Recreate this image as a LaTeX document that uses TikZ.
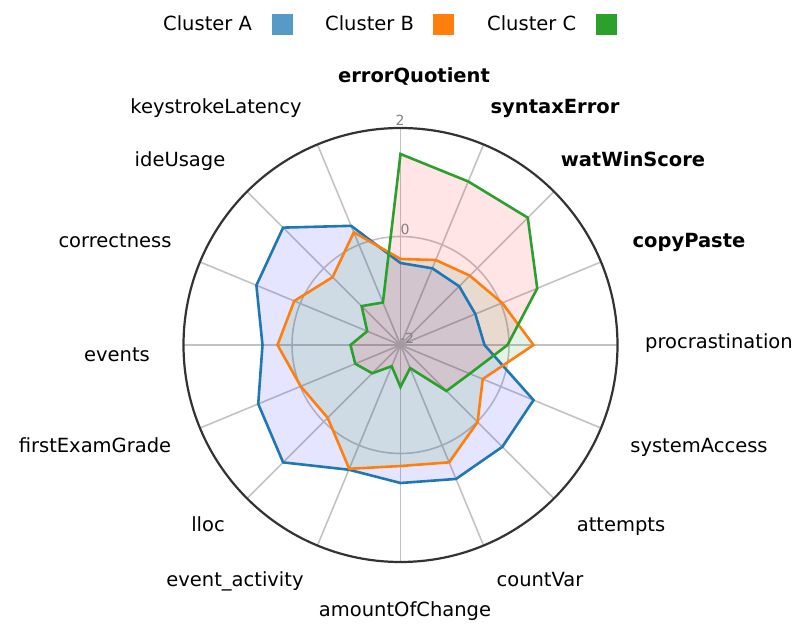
\documentclass[tikz,border=0pt]{standalone}
\usepackage{fontspec}
\setmainfont{DejaVu Sans}
\usetikzlibrary{calc}
\definecolor{cA}{HTML}{1F77B4}
\definecolor{cB}{HTML}{FF7F0E}
\definecolor{cC}{HTML}{2CA02C}
\definecolor{gridgray}{RGB}{195,195,195}
\begin{document}
\begin{tikzpicture}[x=1pt,y=1pt,
  spoke/.style={draw=gridgray, line width=1.6pt},
  ring/.style={draw=gridgray, line width=1.6pt},
  rim/.style={draw=black!80, line width=2.2pt},
  serie/.style={line width=2.6pt, line join=miter},
  lbl/.style={font=\fontsize{19.5}{22}\selectfont, anchor=base, inner sep=0pt},
  blbl/.style={lbl, font=\fontsize{19.5}{22}\selectfont\bfseries},
  tick/.style={font=\fontsize{14}{16}\selectfont, text=black!50, inner sep=0pt},
  legtext/.style={font=\fontsize{19.5}{22}\selectfont, anchor=base west, inner sep=0pt},
  legbox/.style={minimum size=21pt, inner sep=0pt, draw=none},
]
\useasboundingbox (0,0) rectangle (794,623);
\coordinate (O) at (400.5,278);

% radial grid
\foreach \k in {0,...,15}
  \draw[spoke] (O) -- ++({90-22.5*\k}:217);
\draw[ring] (O) circle[radius=108.5];
\draw[rim] (O) circle[radius=217];

% vertices of the three cluster profiles (radius per axis)
\foreach \r [count=\i from 0] in {82,83,83,81,84,144,144,145,138,135,166,154,138,156,166,129}
  \coordinate (A\i) at ($(O)+({90-22.5*\i}:\r)$);
\foreach \r [count=\i from 0] in {86,92,98,110,133,89,109,127,121,134,103,108,123,115,96,122}
  \coordinate (B\i) at ($(O)+({90-22.5*\i}:\r)$);
\foreach \r [count=\i from 0] in {191,177,180,148,107,75,65,25,42,23,40,49,50,36,55,46}
  \coordinate (C\i) at ($(O)+({90-22.5*\i}:\r)$);

% translucent fills
\fill[blue, fill opacity=0.1] (A0)--(A1)--(A2)--(A3)--(A4)--(A5)--(A6)--(A7)--(A8)--(A9)--(A10)--(A11)--(A12)--(A13)--(A14)--(A15)--cycle;
\fill[green!50!black, fill opacity=0.1] (B0)--(B1)--(B2)--(B3)--(B4)--(B5)--(B6)--(B7)--(B8)--(B9)--(B10)--(B11)--(B12)--(B13)--(B14)--(B15)--cycle;
\fill[red, fill opacity=0.1] (C0)--(C1)--(C2)--(C3)--(C4)--(C5)--(C6)--(C7)--(C8)--(C9)--(C10)--(C11)--(C12)--(C13)--(C14)--(C15)--cycle;

% outlines
\draw[serie, cA] (A0)--(A1)--(A2)--(A3)--(A4)--(A5)--(A6)--(A7)--(A8)--(A9)--(A10)--(A11)--(A12)--(A13)--(A14)--(A15)--cycle;
\draw[serie, cB] (B0)--(B1)--(B2)--(B3)--(B4)--(B5)--(B6)--(B7)--(B8)--(B9)--(B10)--(B11)--(B12)--(B13)--(B14)--(B15)--cycle;
\draw[serie, cC] (C0)--(C1)--(C2)--(C3)--(C4)--(C5)--(C6)--(C7)--(C8)--(C9)--(C10)--(C11)--(C12)--(C13)--(C14)--(C15)--cycle;

% radial tick labels
\node[tick] (t2) at (400,503) {2};
\node[tick] (t0) at (405,394) {0};
\node[tick] (tm2) at (407,285) {-2};

% axis labels
\node[blbl] (l0) at (414,540) {errorQuotient};
\node[blbl] (l1) at (555,509) {syntaxError};
\node[blbl] (l2) at (633,456) {watWinScore};
\node[blbl] (l3) at (689,375) {copyPaste};
\node[lbl, anchor=base west] (l4) at (645,274) {procrastination};
\node[lbl] (l5) at (699,170) {systemAccess};
\node[lbl] (l6) at (621,91) {attempts};
\node[lbl] (l7) at (540,36) {countVar};
\node[lbl] (l8) at (405,6) {amountOfChange};
\node[lbl] (l9) at (235,36) {event\_activity};
\node[lbl] (l10) at (208,91) {lloc};
\node[lbl] (l11) at (95,170) {firstExamGrade};
\node[lbl] (l12) at (117,261) {events};
\node[lbl] (l13) at (115,375) {correctness};
\node[lbl] (l14) at (180,456) {ideUsage};
\node[lbl] (l15) at (216,509) {keystrokeLatency};

% legend
\node[legtext] (ga) at (163,592) {Cluster A};
\node[legbox, fill=cA!75] (sa) at (282.5,598.5) {};
\node[legtext] (gb) at (325,592) {Cluster B};
\node[legbox, fill=cB] (sb) at (443.5,598.5) {};
\node[legtext] (gc) at (487,592) {Cluster C};
\node[legbox, fill=cC] (sc) at (606,598.5) {};
\end{tikzpicture}
\end{document}
